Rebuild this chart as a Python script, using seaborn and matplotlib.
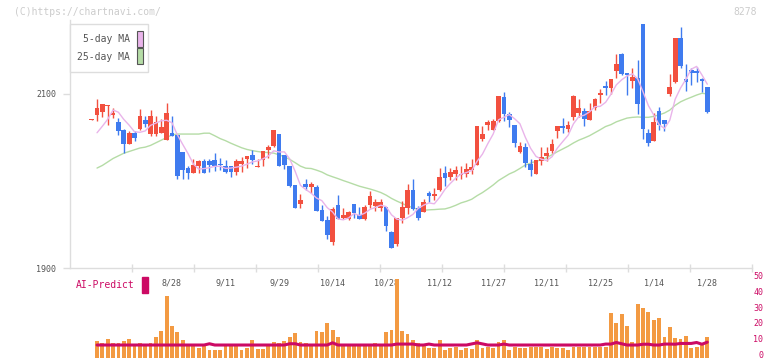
import numpy as np
import pandas as pd
import seaborn as sns
import matplotlib.pyplot as plt
from matplotlib.patches import Rectangle
from matplotlib.transforms import ScaledTranslation

# daily candles, index 0..115 (8/6 .. 1/28)
opens = [2070, 2076, 2079, 2086, 2076, 2068, 2059, 2043, 2055, 2060,
         2070, 2054, 2054, 2055, 2047, 2055, 2053, 2033, 2015, 2009,
         2017, 2023, 2023, 2024, 2020, 2017, 2017, 2011, 2020, 2025,
         2030, 2016, 2024, 2036, 2040, 2054, 2030, 2017, 1996, 1974,
         1997, 1993, 1993, 1967, 1955, 1930, 1973, 1958, 1957, 1974,
         1961, 1957, 1973, 1971, 1969, 1970, 1942, 1928, 1958, 1969,
         1990, 1969, 1965, 1986, 1983, 1990, 2009, 2005, 2008, 2007,
         2008, 2013, 2019, 2048, 2064, 2059, 2069, 2096, 2077, 2064,
         2033, 2039, 2020, 2008, 2023, 2029, 2035, 2058, 2063, 2060,
         2073, 2078, 2080, 2070, 2084, 2099, 2109, 2107, 2126, 2146,
         2124, 2115, 2118, 2180, 2055, 2046, 2080, 2070, 2100, 2114,
         2164, 2117, 2127, 2126, 2117, 2108]
highs = [2071, 2094, 2088, 2087, 2084, 2072, 2060, 2058, 2058, 2083,
         2075, 2082, 2075, 2071, 2090, 2075, 2053, 2033, 2017, 2025,
         2024, 2025, 2025, 2032, 2027, 2024, 2017, 2025, 2028, 2029,
         2036, 2025, 2035, 2042, 2059, 2054, 2030, 2017, 1996, 1985,
         2002, 1999, 1996, 1973, 1960, 1970, 1984, 1969, 1966, 1974,
         1970, 1973, 1989, 1979, 1979, 1970, 1943, 1958, 1977, 1997,
         2002, 1972, 1980, 1989, 1992, 2015, 2017, 2015, 2017, 2017,
         2021, 2025, 2063, 2063, 2070, 2071, 2098, 2102, 2079, 2064,
         2045, 2044, 2025, 2024, 2039, 2039, 2048, 2063, 2072, 2069,
         2099, 2094, 2084, 2090, 2095, 2106, 2115, 2117, 2146, 2147,
         2124, 2130, 2139, 2180, 2060, 2078, 2085, 2070, 2123, 2164,
         2177, 2134, 2130, 2131, 2118, 2108]
lows = [2070, 2069, 2074, 2064, 2072, 2053, 2032, 2043, 2046, 2059,
        2062, 2052, 2052, 2055, 2047, 2052, 2002, 2003, 2003, 2009,
        2009, 2009, 2010, 2012, 2013, 2009, 2005, 2007, 2010, 2015,
        2020, 2016, 2017, 2027, 2039, 2017, 2014, 1993, 1969, 1969,
        1990, 1986, 1966, 1954, 1934, 1927, 1957, 1957, 1955, 1958,
        1957, 1955, 1969, 1966, 1966, 1943, 1923, 1926, 1952, 1962,
        1967, 1955, 1965, 1976, 1978, 1989, 1994, 2001, 2001, 2002,
        2005, 2008, 2019, 2046, 2059, 2059, 2068, 2069, 2062, 2039,
        2032, 2016, 2006, 2008, 2019, 2023, 2032, 2049, 2055, 2056,
        2070, 2074, 2063, 2070, 2082, 2090, 2099, 2100, 2118, 2122,
        2099, 2107, 2077, 2048, 2040, 2046, 2059, 2058, 2098, 2113,
        2130, 2103, 2110, 2114, 2102, 2078]
closes = [2071, 2084, 2088, 2087, 2078, 2058, 2043, 2055, 2049, 2075,
          2066, 2075, 2068, 2062, 2078, 2052, 2006, 2013, 2009, 2018,
          2023, 2009, 2018, 2017, 2018, 2011, 2011, 2023, 2023, 2029,
          2024, 2017, 2035, 2039, 2059, 2017, 2018, 1994, 1969, 1978,
          1993, 1997, 1966, 1954, 1938, 1968, 1957, 1961, 1965, 1963,
          1957, 1970, 1983, 1976, 1976, 1949, 1923, 1958, 1970, 1990,
          1968, 1958, 1976, 1983, 1985, 2005, 2004, 2010, 2013, 2008,
          2014, 2016, 2063, 2054, 2068, 2069, 2098, 2077, 2070, 2044,
          2040, 2021, 2013, 2024, 2028, 2032, 2043, 2063, 2061, 2064,
          2098, 2084, 2071, 2080, 2094, 2100, 2107, 2117, 2134, 2123,
          2122, 2119, 2088, 2060, 2044, 2068, 2064, 2066, 2108, 2164,
          2132, 2114, 2124, 2124, 2115, 2079]

# moving averages need days before the window: first values
ma5_head = [np.nan, 2055.5, 2063, 2071]
ma25_head = [np.nan, 2015, 2018, 2022, 2026, 2029, 2032, 2034, 2036, 2038,
             2039, 2041, 2044, 2047, 2050, 2053, 2054, 2054, 2054, 2054,
             2054, 2055, 2055, 2052]

# volume panel (starts at candle 1)
volume = [10.6, 9.2, 11.7, 9.2, 9.2, 10.6, 11.7, 7.9, 9.2, 7.9,
          9.2, 13.0, 16.8, 39.1, 19.9, 16.3, 11.1, 7.9, 7.0, 6.0,
          7.0, 4.7, 4.7, 4.7, 7.0, 7.0, 7.0, 4.7, 6.0, 11.1,
          5.4, 5.4, 7.9, 9.8, 9.2, 10.4, 13.0, 15.5, 9.8, 9.2,
          7.9, 16.8, 16.1, 21.8, 17.4, 13.0, 7.9, 7.9, 7.9, 7.9,
          7.9, 7.9, 9.2, 7.9, 16.3, 17.4, 50.0,
          16.8, 14.9, 11.1, 9.2, 7.9, 6.0, 6.0, 11.1, 4.7, 6.0,
          6.6, 4.7, 6.0, 5.4, 11.1, 6.0, 6.6, 6.0, 9.8, 11.1,
          4.7, 6.6, 6.0, 6.0, 6.6, 6.6, 6.6, 5.4, 6.6, 6.0,
          6.0, 4.7, 6.6, 6.6, 6.6, 6.6, 6.6, 6.6, 6.6, 28.4,
          21.8, 27.5, 19.9, 9.8, 33.8, 31.3, 28.8, 23.7, 25.0, 13.0,
          19.3, 12.3, 11.7, 13.6, 6.0, 6.6, 9.2, 13.0]
ai_predict = [7.9, 7.9, 7.9, 7.9, 7.9, 7.9, 7.9, 7.9, 7.9, 7.9,
              7.9, 7.9, 7.9, 7.9, 7.9, 7.9, 7.9, 7.9, 7.9, 7.9,
              7.9, 8.7, 7.9, 7.9, 7.9, 7.9, 7.9, 7.9, 7.9, 7.9,
              7.9, 7.9, 7.9, 7.9, 7.9, 7.9, 8.7, 8.7, 7.9, 7.9,
              7.9, 7.9, 7.9, 7.9, 9.3, 7.9, 7.9, 7.9, 7.9, 7.9,
              7.9, 7.9, 7.9, 7.9, 7.9, 7.9, 8.5, 8.5, 8.5, 8.5,
              7.9, 7.9, 8.5, 7.9, 7.9, 7.9, 7.9, 7.9, 7.9, 7.9,
              8.6, 9.3, 8.6, 7.9, 7.9, 7.9, 8.5, 7.9, 7.9, 7.9,
              7.9, 7.9, 7.9, 7.9, 7.9, 7.9, 7.9, 7.9, 7.9, 7.9,
              7.9, 7.9, 7.9, 7.9, 7.9, 8.5, 8.5, 9.5, 8.7, 7.9,
              7.9, 7.9, 8.4, 8.4, 7.9, 7.9, 8.5, 8.5, 8.4, 8.9,
              8.9, 8.9, 9.5, 8.4, 9.7]

date_pos = [15, 25, 35, 45, 55, 65, 75, 85, 95, 105, 115]
date_labels = ['8/28', '9/11', '9/29', '10/14', '10/28', '11/12', '11/27',
               '12/11', '12/25', '1/14', '1/28']
legend_labels = ['5-day MA', '25-day MA']

df = pd.DataFrame({'open': opens, 'high': highs, 'low': lows, 'close': closes})
df['idx'] = np.arange(len(df))
ma5 = df['close'].rolling(5).mean()
ma5.iloc[:len(ma5_head)] = ma5_head
ma25 = df['close'].rolling(25).mean()
ma25.iloc[:len(ma25_head)] = ma25_head
df['ma5'] = ma5
df['ma25'] = ma25

vol = pd.DataFrame({'idx': np.arange(1, len(df)), 'volume': volume, 'ai': ai_predict})

RED = '#f2503f'
BLUE = '#3f7bef'
ORANGE = '#f39a42'
MAG = '#cc0a64'
PINK = '#e9b4ea'
GREEN = '#b5dca6'
GRID = '#dddddd'
TXT = '#555555'

sns.set_theme(style='white')
plt.rcParams['font.family'] = ['DejaVu Sans Mono']

W, H = 772, 361
fig = plt.figure(figsize=(W / 100, H / 100), dpi=100)
ax = fig.add_axes([70 / W, 1 - 268.3 / H, 682 / W, 248.3 / H])
axv = fig.add_axes([70 / W, 1 - 357.5 / H, 682 / W, 79 / H])
axv.patch.set_alpha(0)

xmin, xmax = -4.05, 123.35

# candles
up = df['close'] >= df['open']
colors = np.where(up, RED, BLUE)
body_lo = df[['open', 'close']].min(axis=1)
body_h = (df['close'] - df['open']).abs().clip(lower=1.6)
ax.vlines(df['idx'], df['low'], df['high'], colors=colors, linewidth=1.0, zorder=3)
ax.bar(df['idx'], body_h, bottom=body_lo, width=0.88, color=colors, linewidth=0, zorder=4)

sns.lineplot(data=df, x='idx', y='ma5', ax=ax, color=PINK, linewidth=1.0, zorder=5)
sns.lineplot(data=df, x='idx', y='ma25', ax=ax, color=GREEN, linewidth=1.0, zorder=2)

ax.set_xlim(xmin, xmax)
ax.set_ylim(1900, 1900 + 248.3 / 0.8717)
ax.set_xlabel('')
ax.set_ylabel('')
for s in ['top', 'right']:
    ax.spines[s].set_visible(False)
for s in ['left', 'bottom']:
    ax.spines[s].set_color(GRID)
    ax.spines[s].set_linewidth(1.0)
ax.set_yticks([1900, 2100])
ax.set_yticklabels(['1900', '2100'], fontsize=6, color=TXT)
ax.tick_params(axis='y', length=5, width=1, color=GRID, pad=5, left=True)
ax.set_xticks(date_pos)
ax.set_xticklabels(date_labels, fontsize=6, color=TXT)
ax.tick_params(axis='x', which='major', length=0, pad=7)
ax.set_xticks(np.linspace(xmin, xmax, 12)[1:], minor=True)
ax.tick_params(axis='x', which='minor', direction='inout', length=6, width=1,
               color=GRID, bottom=True)

# legend box drawn in figure pixels (top-left origin)
def fx(px):
    return px / W


def fy(py):
    return 1 - py / H


fig.patches.append(Rectangle((fx(70), fy(71.5)), 78 / W, 47.5 / H, transform=fig.transFigure,
                             facecolor='white', edgecolor=GRID, linewidth=1.0, zorder=10))
for row, (lab, col) in enumerate(zip(legend_labels, [PINK, GREEN])):
    top = 31.5 + row * 17
    fig.patches.append(Rectangle((fx(136.5), fy(top + 15)), 6 / W, 15 / H,
                                 transform=fig.transFigure, facecolor=col,
                                 edgecolor=TXT, linewidth=0.8, zorder=11))
    fig.text(fx(130), fy(top + 8), lab, fontsize=7, color=TXT, ha='right', va='center',
             zorder=12)

# volume + AI predict
sns.barplot(data=vol, x='idx', y='volume', ax=axv, native_scale=True, color=ORANGE,
            saturation=1, width=0.72, errorbar=None, linewidth=0)
sns.lineplot(data=vol, x='idx', y='ai', ax=axv, color=MAG, linewidth=2.2, errorbar=None)
axv.set_xlim(xmin, xmax)
axv.set_ylim(0, 50)
axv.set_xlabel('')
axv.set_ylabel('')
for s in axv.spines.values():
    s.set_visible(False)
axv.set_xticks([])
axv.yaxis.tick_right()
axv.set_yticks([0, 10, 20, 30, 40, 50])
axv.set_yticklabels(['0', '10', '20', '30', '40', '50'], fontsize=6, color=MAG)
axv.tick_params(axis='y', length=0, pad=8)
lift = ScaledTranslation(0, 2 / 100, fig.dpi_scale_trans)
for t in axv.get_yticklabels():
    t.set_horizontalalignment('right')
    t.set_verticalalignment('center')
    t.set_transform(t.get_transform() + lift)

fig.text(fx(76), fy(285), 'AI-Predict', fontsize=7, color=MAG, va='center', ha='left')
fig.patches.append(Rectangle((fx(142), fy(293)), 6 / W, 16 / H,
                             transform=fig.transFigure, color=MAG))
fig.text(fx(14), fy(12), '(C)https://chartnavi.com/', fontsize=7, color='#cccccc',
         va='center', ha='left')
fig.text(fx(757), fy(12), '8278', fontsize=7, color='#cccccc', va='center', ha='right')

fig.savefig('out.png', dpi=100)
